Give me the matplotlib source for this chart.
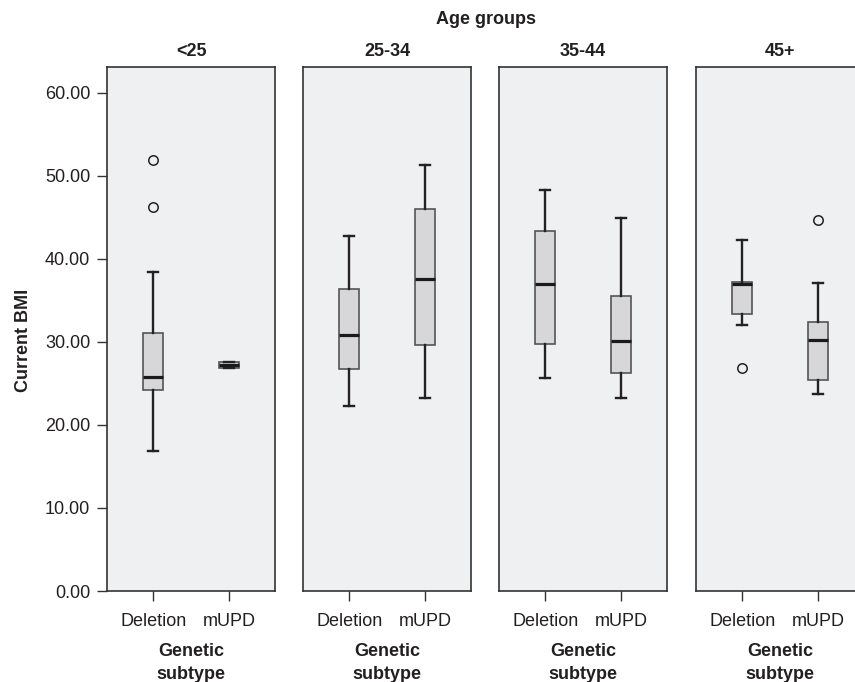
import matplotlib
matplotlib.use("Agg")
import matplotlib.pyplot as plt

plt.rcParams['font.family'] = ['Liberation Sans', 'DejaVu Sans']

age_groups = ['<25', '25-34', '35-44', '45+']
subtypes = ['Deletion', 'mUPD']

# box stats (whisker low, Q1, median, Q3, whisker high)
deletion_low = [16.8, 22.3, 25.7, 32.0]
deletion_q1 = [24.2, 26.7, 29.8, 33.3]
deletion_med = [25.8, 30.8, 37.0, 37.0]
deletion_q3 = [31.1, 36.4, 43.4, 37.2]
deletion_high = [38.4, 42.7, 48.3, 42.3]
deletion_out = [[46.3, 51.9], [], [], [26.9]]

mupd_low = [26.9, 23.3, 23.2, 23.7]
mupd_q1 = [26.9, 29.6, 26.2, 25.4]
mupd_med = [27.2, 37.6, 30.1, 30.2]
mupd_q3 = [27.6, 46.0, 35.5, 32.4]
mupd_high = [27.6, 51.3, 44.9, 37.1]
mupd_out = [[], [], [], [44.7]]

y_ticks = [0, 10, 20, 30, 40, 50, 60]

W, H = 855, 682
fig = plt.figure(figsize=(W / 100, H / 100), dpi=100)

txt = '#231f20'
panel_left = [107, 303, 499, 696]
panel_w = 168
ax_bottom = 591
ax_top = 67

for i, grp in enumerate(age_groups):
    ax = fig.add_axes([panel_left[i] / W, (H - ax_bottom) / H,
                       panel_w / W, (ax_bottom - ax_top) / H])
    ax.set_facecolor('#eff0f2')
    stats = [
        dict(whislo=deletion_low[i], q1=deletion_q1[i], med=deletion_med[i],
             q3=deletion_q3[i], whishi=deletion_high[i], fliers=deletion_out[i]),
        dict(whislo=mupd_low[i], q1=mupd_q1[i], med=mupd_med[i],
             q3=mupd_q3[i], whishi=mupd_high[i], fliers=mupd_out[i]),
    ]
    ax.bxp(stats, positions=[1, 2], widths=0.26, patch_artist=True,
           boxprops=dict(facecolor='#d7d7d9', edgecolor='#555555', lw=1.2),
           medianprops=dict(color='#1a1a1a', lw=2.3),
           whiskerprops=dict(color='#222222', lw=1.7),
           capprops=dict(color='#222222', lw=1.7),
           flierprops=dict(marker='o', mfc='none', mec='#222222', ms=6.8, mew=1.1))
    ax.set_xlim(0.39, 2.61)
    ax.set_ylim(0, 63.1)
    ax.set_xticks([1, 2])
    ax.set_xticklabels(subtypes)
    ax.tick_params(axis='x', length=7, width=1.0, color='#333333', pad=8.5,
                   labelsize=13, labelcolor=txt)
    if i == 0:
        ax.set_yticks(y_ticks)
        ax.set_yticklabels(['%.2f' % v for v in y_ticks])
        ax.tick_params(axis='y', length=7, width=1.0, color='#333333', pad=5,
                       labelsize=13, labelcolor=txt)
    else:
        ax.set_yticks([])
    for s in ax.spines.values():
        s.set_color('#333333')
        s.set_linewidth(1.2)
    ax.set_title(grp, fontsize=13, fontweight='bold', color=txt, pad=8)
    ax.set_xlabel('Genetic\nsubtype', fontsize=13, fontweight='bold', color=txt,
                  labelpad=10, linespacing=1.45)

fig.text(23 / W, 1 - 340 / H, 'Current BMI', rotation=90, fontsize=13,
         fontweight='bold', color=txt, ha='center', va='center')
fig.text(485.5 / W, 1 - 24 / H, 'Age groups', fontsize=13, fontweight='bold',
         color=txt, ha='center', va='baseline')

fig.savefig('out.png', dpi=100)
